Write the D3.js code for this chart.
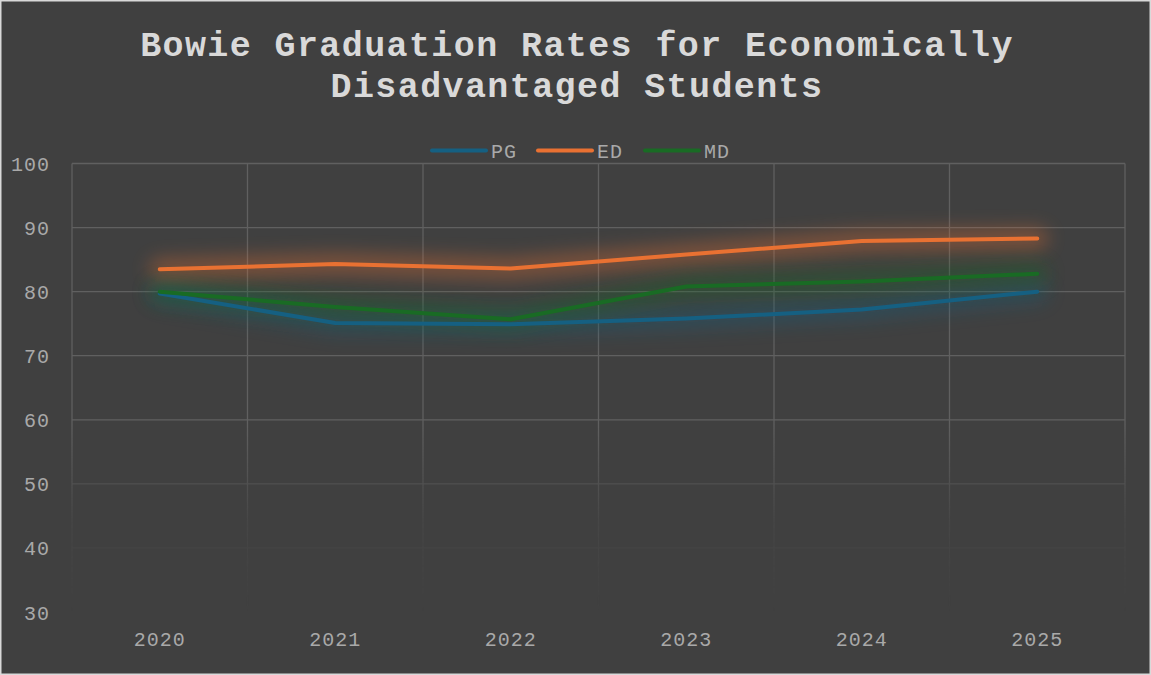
<!DOCTYPE html>
<meta charset="utf-8">
<style>
body { margin: 0; background: #404040; }
.ticklbl { font: 20px "Liberation Mono", "Courier New", monospace; fill: #a9a9a9; letter-spacing: 1px; }
.title { font: bold 35px "Liberation Mono", "Courier New", monospace; fill: #d9d9d9; letter-spacing: 1.4px; }
</style>
<body>
<div id="chart"></div>
<script src="https://cdn.jsdelivr.net/npm/d3@7"></script>
<script>

var WIDTH = 1151;
var HEIGHT = 675;

// chart values
var years = ['2020', '2021', '2022', '2023', '2024', '2025'];
var pgRates = [79.7, 75.1, 74.9, 75.8, 77.2, 80.0];
var edRates = [83.5, 84.3, 83.6, 85.8, 87.9, 88.3];
var mdRates = [80.0, 77.6, 75.7, 80.8, 81.6, 82.8];
var yTicks = [30, 40, 50, 60, 70, 80, 90, 100];
var titleLines = ['Bowie Graduation Rates for Economically', 'Disadvantaged Students'];

var series = [
  {name: 'PG', values: pgRates, color: '#156082'},
  {name: 'ED', values: edRates, color: '#E97132'},
  {name: 'MD', values: mdRates, color: '#196B24'}
];

var plot = {left: 72, right: 1125, top: 163.5, bottom: 612};

var svg = d3.select('#chart').append('svg')
    .attr('width', WIDTH)
    .attr('height', HEIGHT);

svg.append('rect')
    .attr('x', 0).attr('y', 0)
    .attr('width', WIDTH).attr('height', HEIGHT)
    .attr('fill', '#404040');

var defs = svg.append('defs');

// gridlines fade out towards the bottom of the plot
var grad = defs.append('linearGradient')
    .attr('id', 'fade')
    .attr('gradientUnits', 'userSpaceOnUse')
    .attr('x1', 0).attr('y1', plot.top)
    .attr('x2', 0).attr('y2', plot.bottom);
grad.append('stop').attr('offset', '0.58').attr('stop-color', '#fff').attr('stop-opacity', 1);
grad.append('stop').attr('offset', '0.8').attr('stop-color', '#fff').attr('stop-opacity', 0.2);
grad.append('stop').attr('offset', '1').attr('stop-color', '#fff').attr('stop-opacity', 0);
defs.append('mask').attr('id', 'gridmask')
  .append('rect')
    .attr('x', 0).attr('y', 0)
    .attr('width', WIDTH).attr('height', HEIGHT)
    .attr('fill', 'url(#fade)');

defs.append('filter')
    .attr('id', 'glow')
    .attr('x', '-20%').attr('y', '-300%')
    .attr('width', '140%').attr('height', '700%')
  .append('feGaussianBlur')
    .attr('stdDeviation', 9);

var x = d3.scaleBand()
    .domain(years)
    .range([plot.left, plot.right])
    .padding(0);

var y = d3.scaleLinear()
    .domain([30, 100])
    .range([plot.bottom, plot.top]);

// gridlines
var grid = svg.append('g').attr('mask', 'url(#gridmask)');
grid.selectAll('line.h')
    .data(yTicks)
  .enter().append('line')
    .attr('class', 'h')
    .attr('x1', plot.left).attr('x2', plot.right)
    .attr('y1', function(d) { return y(d); })
    .attr('y2', function(d) { return y(d); })
    .attr('stroke', '#606060')
    .attr('stroke-width', 1.3);
var vlines = years.map(function(d) { return x(d); }).concat([plot.right]);
grid.selectAll('line.v')
    .data(vlines)
  .enter().append('line')
    .attr('class', 'v')
    .attr('x1', function(d) { return d; })
    .attr('x2', function(d) { return d; })
    .attr('y1', plot.top).attr('y2', plot.bottom)
    .attr('stroke', '#606060')
    .attr('stroke-width', 1.3);

// axes labels
var yAxis = d3.axisLeft(y).tickValues(yTicks).tickSize(0).tickPadding(0);
var yg = svg.append('g')
    .attr('transform', 'translate(50,0)')
    .call(yAxis);
yg.select('.domain').remove();
yg.selectAll('text').attr('class', 'ticklbl').attr('fill', null).attr('dy', '0.35em');
yg.attr('font-size', null).attr('font-family', null);

var xAxis = d3.axisBottom(x).tickSize(0).tickPadding(0);
var xg = svg.append('g')
    .attr('transform', 'translate(0,632)')
    .call(xAxis);
xg.select('.domain').remove();
xg.selectAll('text').attr('class', 'ticklbl').attr('fill', null).attr('dy', '0.71em');
xg.attr('font-size', null).attr('font-family', null);

var line = d3.line()
    .x(function(d, i) { return x(years[i]) + x.bandwidth() / 2; })
    .y(function(d) { return y(d); });

// soft glow under the lines
svg.selectAll('path.glow')
    .data(series)
  .enter().append('path')
    .attr('class', 'glow')
    .attr('d', function(d) { return line(d.values); })
    .attr('fill', 'none')
    .attr('stroke', function(d) { return d.color; })
    .attr('stroke-width', 22)
    .attr('stroke-linecap', 'round')
    .attr('stroke-linejoin', 'round')
    .attr('opacity', 0.35)
    .attr('filter', 'url(#glow)');

svg.selectAll('path.series')
    .data(series)
  .enter().append('path')
    .attr('class', 'series')
    .attr('d', function(d) { return line(d.values); })
    .attr('fill', 'none')
    .attr('stroke', function(d) { return d.color; })
    .attr('stroke-width', 4)
    .attr('stroke-linecap', 'round')
    .attr('stroke-linejoin', 'round');

// legend
var legendX = [432, 538, 645];
var legend = svg.selectAll('g.legend')
    .data(series)
  .enter().append('g')
    .attr('class', 'legend')
    .attr('transform', function(d, i) { return 'translate(' + legendX[i] + ',150.5)'; });
legend.append('line')
    .attr('x1', 0).attr('x2', 54)
    .attr('y1', 0).attr('y2', 0)
    .attr('stroke', function(d) { return d.color; })
    .attr('stroke-width', 4)
    .attr('stroke-linecap', 'round');
legend.append('text')
    .attr('class', 'ticklbl')
    .attr('x', 59)
    .attr('dy', '0.35em')
    .text(function(d) { return d.name; });

// title
svg.selectAll('text.title')
    .data(titleLines)
  .enter().append('text')
    .attr('class', 'title')
    .attr('x', 577)
    .attr('y', function(d, i) { return 56 + i * 41; })
    .attr('text-anchor', 'middle')
    .text(function(d) { return d; });

// outer border
svg.append('rect')
    .attr('x', 0.75).attr('y', 0.75)
    .attr('width', WIDTH - 1.5).attr('height', HEIGHT - 1.5)
    .attr('fill', 'none')
    .attr('stroke', '#d9d9d9')
    .attr('stroke-width', 1.5);

</script>
